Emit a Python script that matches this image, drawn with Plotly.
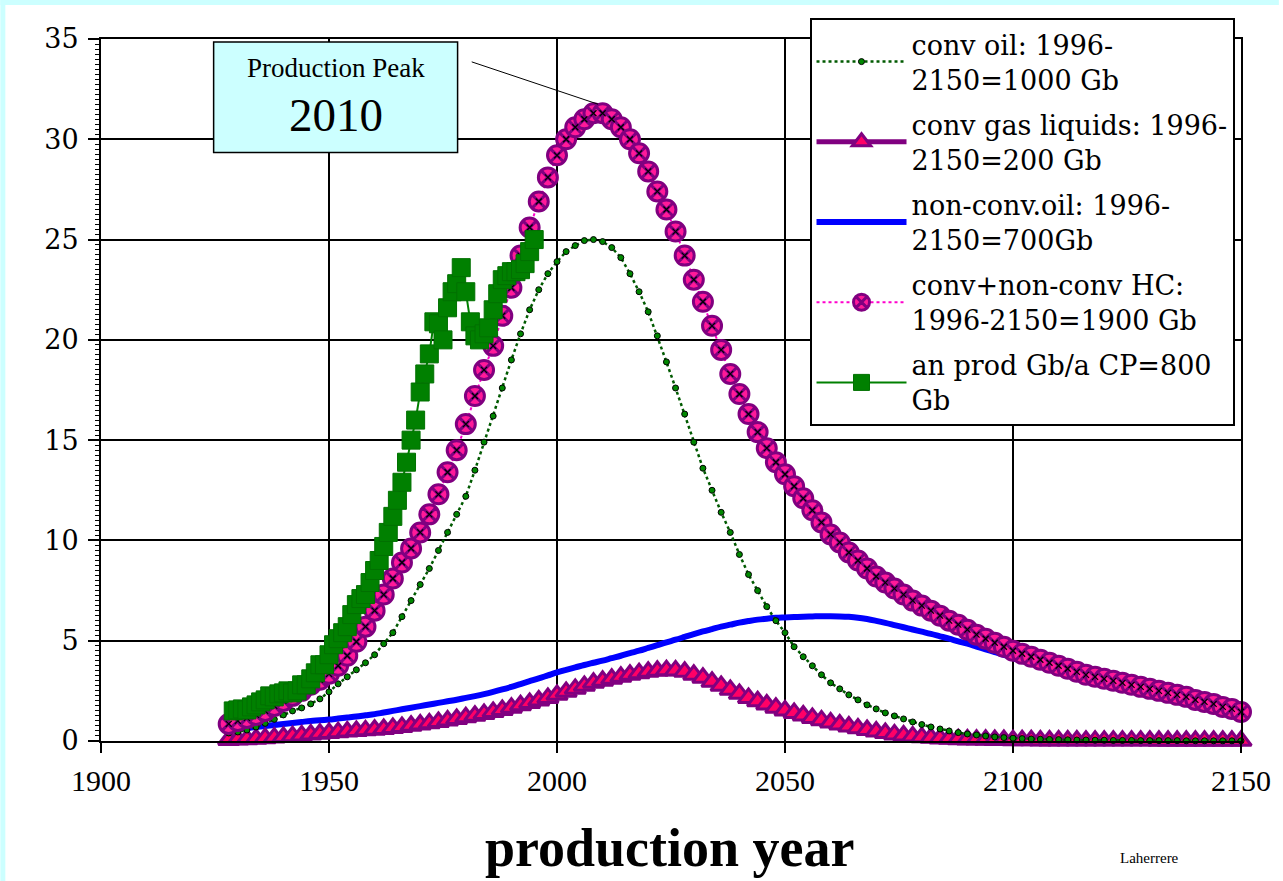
import plotly.graph_objects as go

# ---------------- data ----------------
years = list(range(1928, 2151, 2))          # model curves, every 2 years
prod_years = list(range(1929, 1996))        # annual production history

conv_oil = [
    0.4, 0.45, 0.55, 0.7, 0.88, 1.08, 1.3, 1.5, 1.65, 1.85,
    2.1, 2.45, 2.85, 3.2, 3.55, 3.9, 4.3, 4.85, 5.4, 6.2,
    7.0, 7.8, 8.6, 9.5, 10.4, 11.3, 12.2, 13.5, 14.9, 16.2,
    17.6, 19.0, 20.3, 21.5, 22.5, 23.3, 23.9, 24.4, 24.7, 24.95,
    25.0, 24.9, 24.6, 24.1, 23.3, 22.4, 21.4, 20.2, 18.9, 17.6,
    16.3, 14.9, 13.6, 12.5, 11.4, 10.4, 9.3, 8.3, 7.5, 6.7,
    6.0, 5.4, 4.7, 4.2, 3.75, 3.3, 2.9, 2.6, 2.3, 2.05,
    1.8, 1.6, 1.4, 1.25, 1.1, 0.95, 0.82, 0.7, 0.6, 0.5,
    0.42, 0.35, 0.3, 0.25, 0.2, 0.17, 0.14, 0.12, 0.1, 0.09,
    0.08, 0.07, 0.06, 0.05, 0.05, 0.04, 0.04, 0.03, 0.03, 0.03,
    0.02, 0.02, 0.02, 0.02, 0.02, 0.01, 0.01, 0.01, 0.01, 0.01,
    0.01, 0.01,
]

gas_liquids = [
    0.05, 0.07, 0.09, 0.11, 0.14, 0.17, 0.2, 0.24, 0.28, 0.32,
    0.36, 0.4, 0.44, 0.47, 0.5, 0.53, 0.56, 0.6, 0.65, 0.7,
    0.76, 0.82, 0.88, 0.95, 1.02, 1.1, 1.18, 1.26, 1.35, 1.45,
    1.55, 1.66, 1.78, 1.9, 2.02, 2.15, 2.3, 2.45, 2.6, 2.75,
    2.9, 3.0, 3.1, 3.2, 3.3, 3.38, 3.45, 3.5, 3.53, 3.52,
    3.45, 3.3, 3.15, 2.95, 2.75, 2.55, 2.35, 2.15, 1.98, 1.82,
    1.66, 1.52, 1.4, 1.27, 1.15, 1.03, 0.92, 0.82, 0.72, 0.63,
    0.55, 0.47, 0.4, 0.33, 0.28, 0.23, 0.19, 0.16, 0.13, 0.11,
    0.09, 0.08, 0.07, 0.06, 0.05, 0.05, 0.04, 0.04, 0.04, 0.03,
    0.03, 0.03, 0.03, 0.03, 0.02, 0.02, 0.02, 0.02, 0.02, 0.02,
    0.02, 0.02, 0.01, 0.01, 0.01, 0.01, 0.01, 0.01, 0.01, 0.01,
    0.01, 0.01,
]

nonconv_oil = [
    0.55, 0.6, 0.65, 0.7, 0.75, 0.8, 0.85, 0.9, 0.95, 1.0,
    1.03, 1.07, 1.12, 1.17, 1.22, 1.28, 1.34, 1.42, 1.5, 1.58,
    1.66, 1.74, 1.82, 1.9, 1.98, 2.06, 2.15, 2.24, 2.34, 2.45,
    2.57, 2.7, 2.84, 2.98, 3.12, 3.27, 3.42, 3.55, 3.67, 3.79,
    3.9, 4.01, 4.13, 4.25, 4.38, 4.5, 4.64, 4.78, 4.92, 5.05,
    5.19, 5.33, 5.46, 5.58, 5.7, 5.8, 5.9, 5.98, 6.05, 6.1,
    6.14, 6.16, 6.18, 6.2, 6.21, 6.22, 6.22, 6.21, 6.19, 6.15,
    6.08, 5.99, 5.89, 5.78, 5.67, 5.56, 5.45, 5.34, 5.22, 5.1,
    4.97, 4.85, 4.71, 4.57, 4.43, 4.29, 4.14, 4.0, 3.88, 3.76,
    3.63, 3.5, 3.36, 3.22, 3.08, 2.98, 2.88, 2.78, 2.68, 2.58,
    2.48, 2.38, 2.28, 2.18, 2.08, 1.98, 1.85, 1.75, 1.65, 1.52,
    1.42, 1.3,
]

total_hc = [
    0.85, 1.0, 1.15, 1.3, 1.5, 1.75, 2.0, 2.25, 2.5, 2.8,
    3.05, 3.35, 3.75, 4.25, 4.95, 5.7, 6.5, 7.3, 8.1, 8.9,
    9.6, 10.4, 11.3, 12.3, 13.4, 14.5, 15.8, 17.2, 18.5, 19.7,
    21.2, 22.6, 24.2, 25.6, 26.9, 28.1, 29.2, 30.0, 30.6, 31.0,
    31.3, 31.3, 31.0, 30.6, 30.0, 29.3, 28.4, 27.4, 26.5, 25.4,
    24.2, 23.0, 21.9, 20.7, 19.5, 18.3, 17.3, 16.3, 15.4, 14.6,
    13.9, 13.3, 12.7, 12.1, 11.5, 10.9, 10.3, 9.9, 9.4, 9.0,
    8.6, 8.2, 7.9, 7.6, 7.3, 7.0, 6.75, 6.5, 6.25, 6.0,
    5.8, 5.55, 5.3, 5.1, 4.9, 4.7, 4.5, 4.35, 4.2, 4.05,
    3.9, 3.75, 3.6, 3.45, 3.3, 3.2, 3.1, 3.0, 2.9, 2.8,
    2.7, 2.6, 2.5, 2.4, 2.3, 2.2, 2.05, 1.95, 1.85, 1.7,
    1.6, 1.45,
]

annual_prod = [
    1.5, 1.55, 1.6, 1.55, 1.7, 1.8, 1.95, 2.05, 2.25, 2.2,
    2.35, 2.4, 2.5, 2.4, 2.5, 2.8, 2.8, 3.1, 3.4, 3.8,
    3.8, 4.3, 4.8, 5.1, 5.4, 5.7, 6.3, 6.8, 7.1, 7.3,
    7.9, 8.5, 9.0, 9.7, 10.4, 11.2, 12.0, 12.9, 13.9, 15.0,
    16.0, 17.4, 18.3, 19.3, 20.9, 20.8, 20.0, 21.6, 22.4, 22.8,
    23.6, 22.4, 20.9, 20.2, 20.0, 20.3, 20.6, 21.5, 22.3, 23.0,
    23.2, 23.4, 23.4, 23.5, 23.8, 24.4, 25.0,
]

names = [
    "conv oil: 1996-<br>2150=1000 Gb",
    "conv gas liquids: 1996-<br>2150=200 Gb",
    "non-conv.oil: 1996-<br>2150=700Gb",
    "conv+non-conv HC:<br>1996-2150=1900 Gb",
    "an prod Gb/a CP=800<br>Gb",
]

x_ticks = [1900, 1950, 2000, 2050, 2100, 2150]
y_ticks = [0, 5, 10, 15, 20, 25, 30, 35]

peak_label = "Production Peak"
peak_year = "2010"

SERIF = "Liberation Serif"
WIDE = "DejaVu Serif"

fig = go.Figure()

fig.add_trace(go.Scatter(
    x=years, y=nonconv_oil, name=names[2], mode="lines", legendrank=3,
    legendgroup="g3", line=dict(color="#0000ff", width=6, shape="spline"),
    cliponaxis=False))

fig.add_trace(go.Scatter(
    x=years, y=gas_liquids, name=names[1], mode="lines+markers", legendrank=2,
    legendgroup="g2", line=dict(color="#800080", width=5),
    marker=dict(symbol="triangle-up", size=18, color="#ff0066",
                line=dict(color="#800080", width=3)),
    cliponaxis=False))

fig.add_trace(go.Scatter(
    x=years, y=conv_oil, name=names[0], mode="lines+markers", legendrank=1,
    legendgroup="g1", line=dict(color="#005a00", width=2.5, dash="dot"),
    marker=dict(symbol="circle", size=6, color="#008800",
                line=dict(color="black", width=1)),
    cliponaxis=False))

fig.add_trace(go.Scatter(
    x=years, y=total_hc, name=names[3], mode="lines+markers", legendrank=4,
    legendgroup="g4", line=dict(color="#ff00cc", width=2, dash="dot"),
    marker=dict(symbol="circle-x", size=19, color="#ff1a99",
                line=dict(color="#800080", width=3)),
    cliponaxis=False))
fig.add_trace(go.Scatter(
    x=years, y=total_hc, mode="markers", showlegend=False, hoverinfo="skip",
    marker=dict(symbol="x-thin-open", size=6, color="black",
                line=dict(color="black", width=1.2)),
    cliponaxis=False))

fig.add_trace(go.Scatter(
    x=prod_years, y=annual_prod, name=names[4], mode="lines+markers", legendrank=5,
    legendgroup="g5", line=dict(color="#008000", width=2),
    marker=dict(symbol="square", size=18, color="#008000",
                line=dict(color="#007000", width=1)),
    cliponaxis=False))

fig.update_layout(
    width=1283, height=881,
    margin=dict(l=101, r=38, t=39, b=140),
    paper_bgcolor="white", plot_bgcolor="white",
    font=dict(family=SERIF, color="black", size=28),
    showlegend=True,
    legend=dict(
        x=(812 - 101) / 1144, y=(741 - 18) / 702, xanchor="left", yanchor="top",
        bgcolor="white", bordercolor="black", borderwidth=2,
        font=dict(family=WIDE, size=27, color="black"),
        itemwidth=90, traceorder="grouped", tracegroupgap=7,
    ),
)

fig.update_xaxes(
    range=[1900, 2150], tickvals=x_ticks, ticktext=[str(v) for v in x_ticks],
    showgrid=True, gridcolor="black", gridwidth=1.5,
    showline=True, linecolor="black", linewidth=2, mirror=True,
    ticks="outside", ticklen=10, tickwidth=1.5, tickcolor="black",
    tickfont=dict(family=SERIF, size=30, color="black"),
    ticklabelstandoff=2, zeroline=False,
)
fig.update_yaxes(
    range=[0, 35], tickvals=y_ticks,
    showgrid=True, gridcolor="black", gridwidth=1.5,
    showline=True, linecolor="black", linewidth=2, mirror=True,
    ticks="outside", ticklen=11, tickwidth=1.5, tickcolor="black",
    tickfont=dict(family=WIDE, size=27, color="black"),
    ticklabelstandoff=4, zeroline=False,
    minor=dict(dtick=0.25, ticks="outside", ticklen=4, tickwidth=1,
               tickcolor="black", showgrid=False),
)

# peak box
fig.add_shape(type="rect", xref="x", yref="y",
              x0=1924.7, x1=1978.2, y0=29.34, y1=34.85,
              fillcolor="#ccffff", line=dict(color="black", width=1.5),
              layer="above")
fig.add_shape(type="line", xref="x", yref="y",
              x0=1981.3, y0=33.86, x1=2009.0, y1=31.75,
              line=dict(color="black", width=1), layer="above")
fig.add_annotation(x=1951.5, y=33.55, xref="x", yref="y", text=peak_label,
                   showarrow=False, font=dict(family=SERIF, size=27, color="black"))
fig.add_annotation(x=1951.5, y=31.2, xref="x", yref="y", text=peak_year,
                   showarrow=False, font=dict(family=SERIF, size=47, color="black"))

# axis title and credit
fig.add_annotation(x=(672 - 101) / 1144, y=(741 - 848) / 702, xref="paper", yref="paper",
                   text="<b>production year</b>", showarrow=False,
                   xanchor="center", yanchor="middle",
                   font=dict(family=SERIF, size=54, color="black"))
fig.add_annotation(x=(1153 - 101) / 1144, y=(741 - 858) / 702, xref="paper", yref="paper",
                   text="Laherrere", showarrow=False,
                   xanchor="center", yanchor="middle",
                   font=dict(family=SERIF, size=15, color="black"))

# thin light-cyan frame at top and left of the picture
px0 = -101 / 1144
px1 = (1283 - 101) / 1144
py_top = 741 / 702
fig.add_shape(type="rect", xref="paper", yref="paper",
              x0=px0, x1=px1, y0=(741 - 5) / 702, y1=py_top,
              fillcolor="#ccffff", line=dict(width=0), layer="above")
fig.add_shape(type="rect", xref="paper", yref="paper",
              x0=px0, x1=(5 - 101) / 1144, y0=(741 - 881) / 702, y1=py_top,
              fillcolor="#ccffff", line=dict(width=0), layer="above")

fig.write_html("out.html", config={"displayModeBar": False},
               post_script="document.body.style.margin='0px';document.body.style.overflow='hidden';")
